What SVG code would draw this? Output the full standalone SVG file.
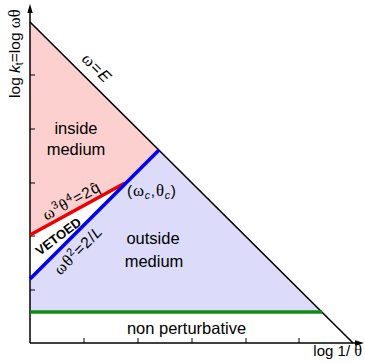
<svg xmlns="http://www.w3.org/2000/svg" width="365" height="363" viewBox="0 0 365 363">
<style>
text{font-family:"Liberation Sans",Arial,sans-serif;fill:#000}
.g{font-family:"Liberation Serif","Times New Roman",serif;font-size:1.08em}
.lbl{font-size:16.5px}
.eq{font-size:15.5px;letter-spacing:0.8px}
.ax{stroke:#000;stroke-width:1.5;fill:none}
.tick{stroke:#000;stroke-width:1;fill:none}
.thick{stroke-width:3.5;fill:none;stroke-linecap:butt}
</style>
<rect width="365" height="363" fill="#fff"/>
<g id="regions">
<polygon id="inside-region" points="30,22 159,150 125,183 30,235" fill="#fdd0d0"/>
<polygon id="outside-region" points="159,150 322,312 30,312 30,279" fill="#dcdcfa"/>
</g>
<g id="connectors">
<path class="ax" d="M30,343 V11"/>
<polygon points="30,4 27.3,13 32.7,13" fill="#000"/>
<path class="ax" d="M30,343 H357"/>
<polygon points="364,343 355,340.3 355,345.7" fill="#000"/>
<path class="tick" d="M30,75h5M30,129h5M30,183h5M30,236h5M30,290h5"/>
<path class="tick" d="M84,343v-5M138,343v-5M192,343v-5M246,343v-5M299,343v-5"/>
<path id="diag" d="M30,22 L353,343" stroke="#000" stroke-width="1.6" fill="none"/>
<path id="green" class="thick" d="M30,312 H322" stroke="#138a13"/>
<path id="red" class="thick" d="M30,235 L125,183" stroke="#ee0000"/>
<path id="blue" class="thick" d="M30,279 L159,150" stroke="#0000ee"/>
</g>
<g id="labels">
<text id="ylabel" transform="translate(19.5,53.5) rotate(-90)" text-anchor="middle" font-size="15.5">log <tspan font-style="italic">k</tspan><tspan font-size="10.5" dy="3">t</tspan><tspan dy="-3">=log </tspan><tspan class="g">ωθ</tspan></text>
<text id="xlabel" x="362" y="356" text-anchor="end" font-size="15">log 1/ <tspan class="g">θ</tspan></text>
<text id="wE" transform="translate(93,72) rotate(45)" text-anchor="middle" font-size="16" letter-spacing="1"><tspan class="g">ω</tspan>=<tspan font-style="italic">E</tspan></text>
<g id="inside"><text class="lbl" x="76" y="134" text-anchor="middle">inside</text><text class="lbl" x="76" y="155" text-anchor="middle">medium</text></g>
<g id="outside"><text class="lbl" x="153" y="244" text-anchor="middle">outside</text><text class="lbl" x="154" y="267" text-anchor="middle">medium</text></g>
<text id="nonpert" class="lbl" x="186.5" y="334" text-anchor="middle">non perturbative</text>
<text id="redeq" class="eq" transform="translate(74,205.5) rotate(-28.7)" text-anchor="middle"><tspan class="g">ω</tspan><tspan font-size="11" dy="-6">3</tspan><tspan class="g" dy="6">θ</tspan><tspan font-size="11" dy="-6">4</tspan><tspan dy="6">=2q̂</tspan></text>
<text id="vetoed" transform="translate(61,240) rotate(-37)" text-anchor="middle" font-size="13" font-weight="bold">VETOED</text>
<text id="blueeq" class="eq" transform="translate(82,254) rotate(-45)" text-anchor="middle" font-size="16"><tspan class="g">ωθ</tspan><tspan font-size="11" dy="-6">2</tspan><tspan dy="6">=2/</tspan><tspan font-style="italic">L</tspan></text>
<text id="wc" class="eq" x="127" y="196" font-size="15" letter-spacing="0.3">(<tspan class="g">ω</tspan><tspan font-size="10.5" font-style="italic" dy="3">c</tspan><tspan dy="-3">,</tspan><tspan class="g">θ</tspan><tspan font-size="10.5" font-style="italic" dy="3">c</tspan><tspan dy="-3">)</tspan></text>
</g>
</svg>
